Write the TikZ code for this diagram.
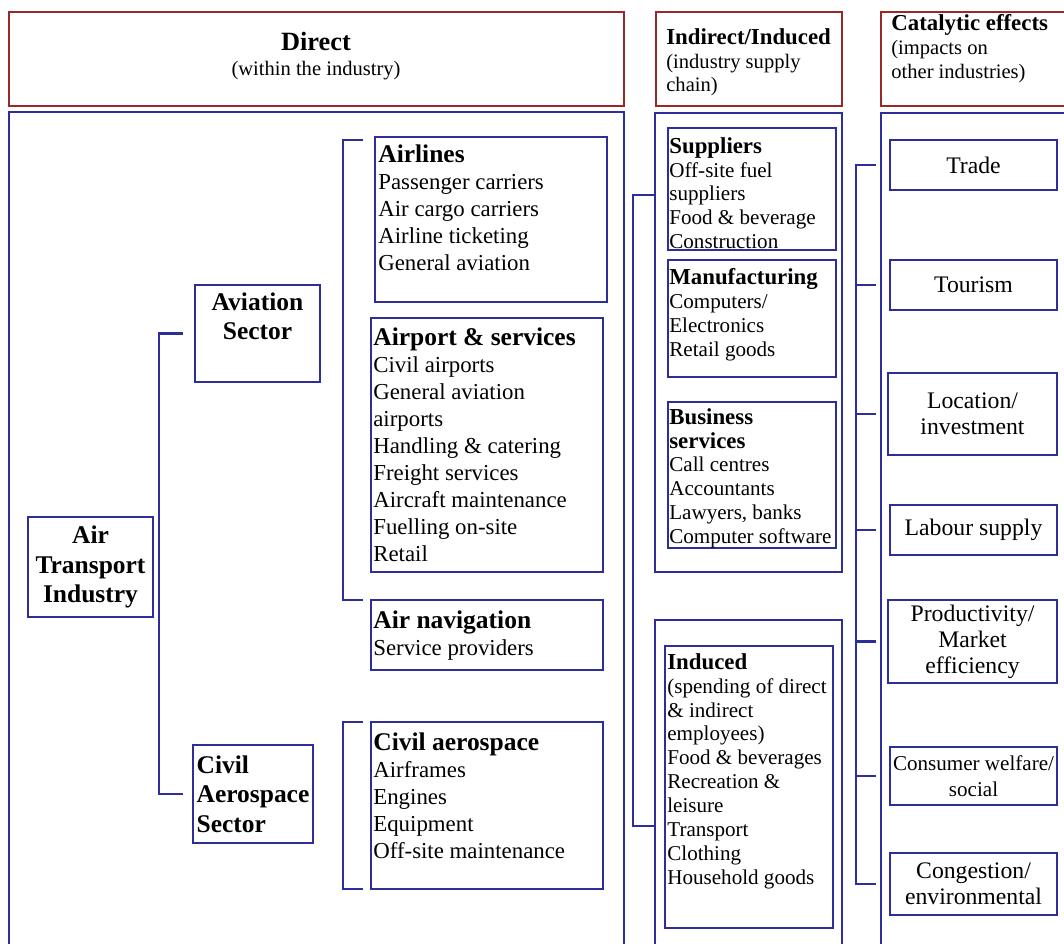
\documentclass[tikz,border=0pt]{standalone}
\usepackage{fontspec}
\setmainfont{Liberation Serif}
\usetikzlibrary{calc}
\definecolor{boxblue}{RGB}{45,45,155}
\definecolor{boxred}{RGB}{155,40,40}
\newcommand\midhead[1]{{\fontsize{14.5}{15.4}\selectfont\bfseries #1}}
\newcommand\suphead[1]{{\fontsize{13}{13.6}\selectfont\bfseries #1}}
\tikzset{
    sz/.style 2 args={minimum width=#1*0.02cm, minimum height=#2*0.02cm},
    bluebox/.style={draw=boxblue, line width=1.3pt, inner sep=1pt, outer sep=0pt, anchor=north west},
    redbox/.style={draw=boxred, line width=1.2pt, inner sep=0pt, outer sep=0pt, anchor=north west},
    link/.style={draw=boxblue, line width=1.3pt},
    midtxt/.style={anchor=north west, inner sep=0pt, align=left, font=\fontsize{13}{15.4}\selectfont},
    suptxt/.style={anchor=north west, inner sep=0pt, align=left, font=\fontsize{12}{13.6}\selectfont},
    cattxt/.style={align=center, font=\fontsize{13.5}{14.8}\selectfont},
    treetxt/.style={align=center, font=\fontsize{14.5}{16.8}\selectfont\bfseries},
}
\begin{document}
\begin{tikzpicture}[x=0.02cm, y=-0.02cm]
\useasboundingbox (0,0) rectangle (1064,943);
% headers
\node[redbox, sz={615}{94}] (hdirect) at (9,12) {};
\node[anchor=north, inner sep=0pt, align=center, font=\fontsize{11.7}{14.2}\selectfont] (hdirect-t) at (316,32)
    {{\fontsize{15}{14.2}\selectfont\bfseries Direct}\\(within the industry)};
\node[redbox, sz={186}{94}] (hindirect) at (656,12) {};
\node[anchor=north west, inner sep=0pt, align=left, font=\fontsize{11.7}{13.6}\selectfont] (hindirect-t) at (666,28)
    {\suphead{Indirect/Induced}\\(industry supply\\chain)};
\node[redbox, sz={190}{94}] (hcatalytic) at (881,12) {};
\node[anchor=north west, inner sep=0pt, align=left, font=\fontsize{11.7}{13.6}\selectfont] (hcatalytic-t) at (891,14)
    {\suphead{Catalytic effects}\\(impacts on\\other industries)};

% column frames
\node[bluebox, sz={615}{836}] (bdirect) at (9,112) {};
\node[bluebox, sz={187}{459}] (bindirect1) at (655,113) {};
\node[bluebox, sz={187}{330}] (bindirect2) at (655,620) {};
\node[bluebox, sz={190}{836}] (bcatalytic) at (881,113) {};

% direct: sectors
\node[bluebox, sz={125}{100}, treetxt] (air) at (28,517) {Air\\Transport\\Industry};
\node[bluebox, sz={125}{97}] (aviation) at (195,285) {};
\node[treetxt, anchor=north, inner sep=0pt] (aviation-t) at ([shift={(0,7)}]aviation.north) {Aviation\\Sector};
\node[bluebox, sz={120}{98}, treetxt, align=left] (civilsec) at (193,745) {Civil\\Aerospace\\Sector};
\draw[link] ($(aviation.west)+(-12,0)$) -- ++(-24,0) |- ($(civilsec.west)+(-10,0)$);

% direct: activities
\node[bluebox, sz={232}{165}] (airlines) at (375,137) {};
\node[midtxt] (airlines-t) at ([shift={(3,7)}]airlines.north west)
    {\midhead{Airlines}\\Passenger carriers\\Air cargo carriers\\Airline ticketing\\General aviation};
\node[bluebox, sz={232}{254}] (airport) at (371,318) {};
\node[midtxt] (airport-t) at ([shift={(2,9)}]airport.north west)
    {\midhead{Airport \& services}\\Civil airports\\General aviation\\airports\\Handling \& catering\\Freight services\\Aircraft maintenance\\Fuelling on-site\\Retail};
\node[bluebox, sz={232}{70}] (airnav) at (371,600) {};
\node[midtxt] (airnav-t) at ([shift={(2,10)}]airnav.north west)
    {\midhead{Air navigation}\\Service providers};
\node[bluebox, sz={232}{167}] (civilaero) at (371,722) {};
\node[midtxt] (civilaero-t) at ([shift={(2,10)}]civilaero.north west)
    {\midhead{Civil aerospace}\\Airframes\\Engines\\Equipment\\Off-site maintenance};
\draw[link] ($(airlines.north west)+(-12,3)$) -- ++(-20,0) |- ($(airnav.north west)+(-8,0)$);
\draw[link] ($(civilaero.north west)+(-8,0)$) -- ++(-20,0) |- ($(civilaero.south west)+(-8,0)$);

% indirect / induced
\node[bluebox, sz={168}{122}] (suppliers) at (668,128) {};
\node[suptxt] (suppliers-t) at ([shift={(1,9)}]suppliers.north west)
    {\suphead{Suppliers}\\Off-site fuel\\suppliers\\Food \& beverage\\Construction};
\node[bluebox, sz={168}{117}] (manufacturing) at (668,260) {};
\node[suptxt] (manufacturing-t) at ([shift={(1,8)}]manufacturing.north west)
    {\suphead{Manufacturing}\\Computers/\\Electronics\\Retail goods};
\node[bluebox, sz={168}{146}] (business) at (668,402) {};
\node[suptxt] (business-t) at ([shift={(1,6)}]business.north west)
    {\suphead{Business}\\\suphead{services}\\Call centres\\Accountants\\Lawyers, banks\\Computer software};
\node[bluebox, sz={168}{282}] (induced) at (665,646) {};
\node[suptxt] (induced-t) at ([shift={(2,7)}]induced.north west)
    {\suphead{Induced}\\(spending of direct\\\& indirect\\employees)\\Food \& beverages\\Recreation \&\\leisure\\Transport\\Clothing\\Household goods};
\draw[link] ($(bindirect1.north west)+(0,82)$) -- ++(-22,0) |- ($(bindirect2.north west)+(0,206)$);

% catalytic effects
\node[bluebox, sz={167}{50}, cattxt] (trade) at (890,140) {Trade};
\node[bluebox, sz={167}{50}, cattxt] (tourism) at (890,260) {Tourism};
\node[bluebox, sz={169}{82}, cattxt] (location) at (888,373) {Location/\\investment};
\node[bluebox, sz={167}{50}, cattxt] (labour) at (890,505) {Labour supply};
\node[bluebox, sz={169}{83}, cattxt] (productivity) at (888,600) {Productivity/\\Market\\efficiency};
\node[bluebox, sz={167}{58}, cattxt, font=\fontsize{12}{14.8}\selectfont] (consumer) at (890,747) {Consumer welfare/\\social};
\node[bluebox, sz={167}{62}, cattxt] (congestion) at (890,853) {Congestion/\\environmental};
\draw[link] ($(trade.west -| bcatalytic.west)+(-5,0)$) -- ++(-20,0) |- ($(congestion.west -| bcatalytic.west)+(-5,0)$);
\foreach \n in {tourism,location,labour,productivity,consumer}
    \draw[link] ($(\n.west -| bcatalytic.west)+(-5,0)$) -- ++(-20,0);
\end{tikzpicture}
\end{document}
